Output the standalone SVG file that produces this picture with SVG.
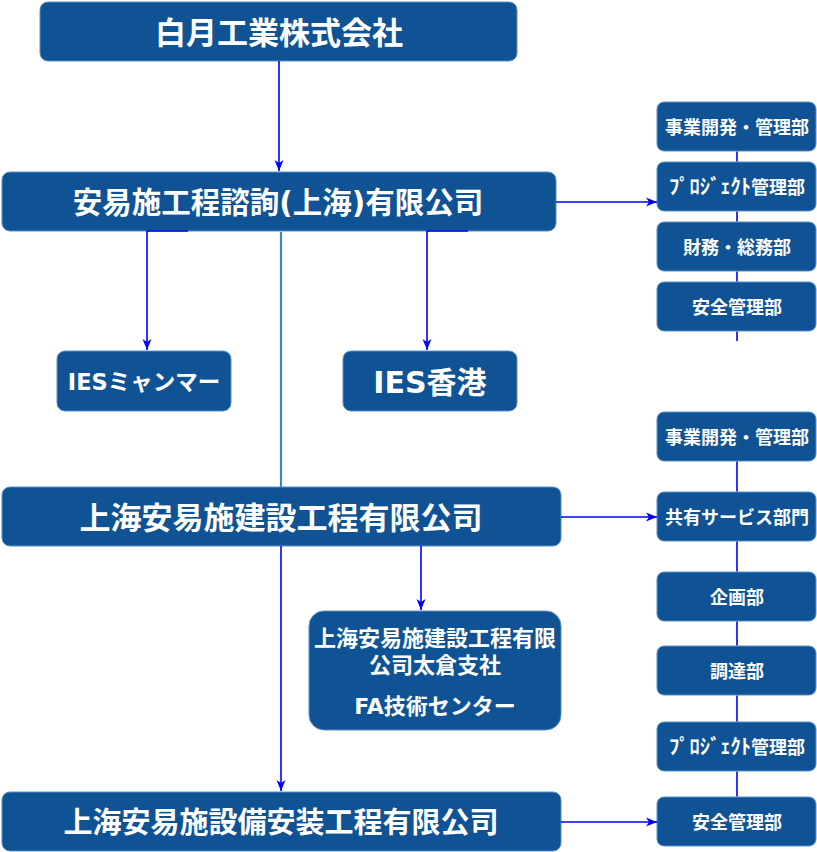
<svg xmlns="http://www.w3.org/2000/svg" width="817" height="852" viewBox="0 0 817 852">
<style>
.box{fill:#0F5394;stroke:#5B8FC9;stroke-width:1}
.t{fill:#fff;font-family:"DejaVu Sans","Noto Sans CJK JP",sans-serif;font-weight:bold;text-anchor:middle;dominant-baseline:central}
.c{fill:none;stroke:#0000FF;stroke-width:1.6}
.hk{font-size:20.5px}
</style>
<defs>
<marker id="ah" markerUnits="userSpaceOnUse" markerWidth="12" markerHeight="10" refX="11" refY="5" orient="auto">
<path d="M0,0.5 L11,5 L0,9.5 L3,5 z" fill="#0000FF"/>
</marker>
</defs>
<rect width="817" height="852" fill="#fff"/>
<g id="n-hakugetsu"><rect class="box" x="40" y="2" width="477" height="59" rx="8"/><text class="t" x="279" y="33" font-size="31">白月工業株式会社</text></g>
<g id="n-ies-sh"><rect class="box" x="2" y="172" width="554" height="59" rx="8"/><text class="t" x="278" y="203" font-size="29.5">安易施工程諮詢(上海)有限公司</text></g>
<g id="n-ies-mm"><rect class="box" x="57" y="351" width="174" height="60" rx="8"/><text class="t" x="144" y="382" font-size="22.5">IESミャンマー</text></g>
<g id="n-ies-hk"><rect class="box" x="343" y="351" width="174" height="60" rx="8"/><text class="t" x="430" y="382" font-size="30">IES香港</text></g>
<g id="n-kensetsu"><rect class="box" x="2" y="487" width="559" height="59" rx="8"/><text class="t" x="281" y="518" font-size="31">上海安易施建設工程有限公司</text></g>
<g id="n-taicang"><rect class="box" x="309" y="611" width="252" height="119" rx="15"/>
<text class="t" x="435" y="638" font-size="22">上海安易施建設工程有限</text>
<text class="t" x="435" y="665" font-size="22">公司太倉支社</text>
<text class="t" x="435" y="706" font-size="22">FA技術センター</text></g>
<g id="n-setsubi"><rect class="box" x="2" y="792" width="559" height="59" rx="8"/><text class="t" x="281" y="823" font-size="29">上海安易施設備安装工程有限公司</text></g>
<g id="r1-1"><rect class="box" x="657" y="102" width="159" height="49" rx="7"/><text class="t" x="737" y="127" font-size="18">事業開発・管理部</text></g>
<g id="r1-2"><rect class="box" x="657" y="162" width="159" height="49" rx="7"/><text class="t" x="737" y="187" font-size="18"><tspan class="hk">ﾌﾟﾛｼﾞｪｸﾄ</tspan>管理部</text></g>
<g id="r1-3"><rect class="box" x="657" y="222" width="159" height="49" rx="7"/><text class="t" x="737" y="247" font-size="18">財務・総務部</text></g>
<g id="r1-4"><rect class="box" x="657" y="282" width="159" height="49" rx="7"/><text class="t" x="737" y="307" font-size="18">安全管理部</text></g>
<g id="r2-1"><rect class="box" x="657" y="412" width="159" height="49" rx="7"/><text class="t" x="737" y="437" font-size="18">事業開発・管理部</text></g>
<g id="r2-2"><rect class="box" x="657" y="492" width="159" height="49" rx="7"/><text class="t" x="737" y="517" font-size="18">共有サービス部門</text></g>
<g id="r2-3"><rect class="box" x="657" y="572" width="159" height="49" rx="7"/><text class="t" x="737" y="597" font-size="18">企画部</text></g>
<g id="r2-4"><rect class="box" x="657" y="646" width="159" height="49" rx="7"/><text class="t" x="737" y="671" font-size="18">調達部</text></g>
<g id="r2-5"><rect class="box" x="657" y="722" width="159" height="49" rx="7"/><text class="t" x="737" y="747" font-size="18"><tspan class="hk">ﾌﾟﾛｼﾞｪｸﾄ</tspan>管理部</text></g>
<g id="r2-6"><rect class="box" x="657" y="797" width="159" height="49" rx="7"/><text class="t" x="737" y="822" font-size="18">安全管理部</text></g>
<g id="connectors">
<path class="c" d="M279,61 V171" marker-end="url(#ah)"/>
<path class="c" d="M556,202 H657" marker-end="url(#ah)"/>
<path class="c" d="M188,231 H147 V350" marker-end="url(#ah)"/>
<path class="c" d="M468,231 H427 V350" marker-end="url(#ah)"/>
<path d="M281,232 V487" fill="none" stroke="#3C86C6" stroke-width="2.2"/>
<path class="c" d="M561,517 H657" marker-end="url(#ah)"/>
<path class="c" d="M281,546 V791" marker-end="url(#ah)"/>
<path class="c" d="M421,546 V610" marker-end="url(#ah)"/>
<path class="c" d="M561,822 H657" marker-end="url(#ah)"/>
<path class="c" d="M737,151.5 V161.5 M737,211.5 V221.5 M737,271.5 V281.5 M737,331.5 V341"/>
<path class="c" d="M737,461.5 V491.5 M737,541.5 V571.5 M737,621.5 V645.5 M737,695.5 V721.5 M737,771.5 V796.5"/>
</g>
</svg>
